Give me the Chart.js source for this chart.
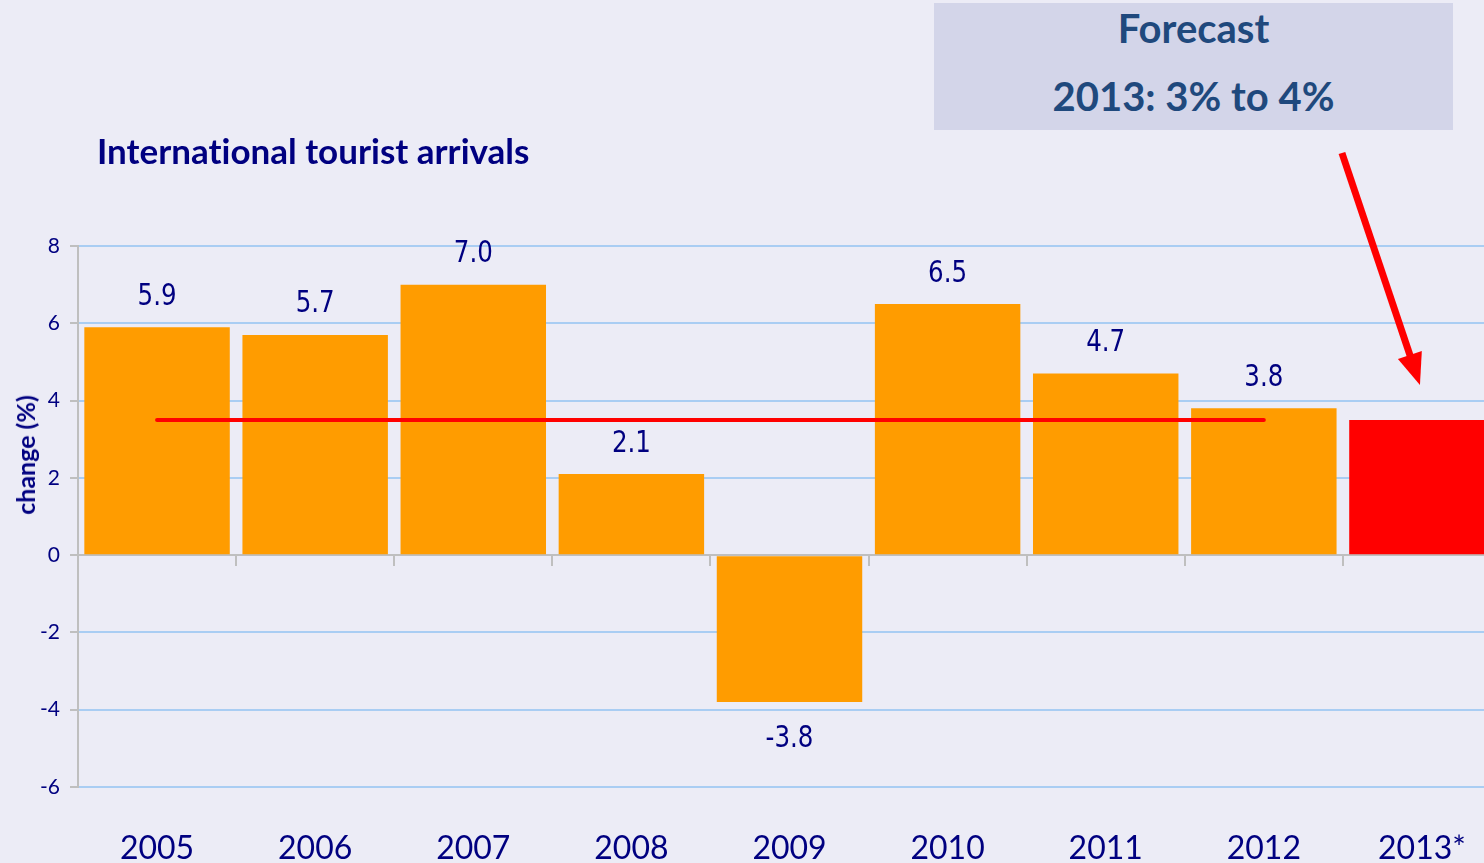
<!DOCTYPE html>
<html>
<head>
<meta charset="utf-8">
<script src="https://cdn.jsdelivr.net/npm/chart.js@4.4.1/dist/chart.umd.min.js"></script>
<style>
  html, body { margin: 0; padding: 0; background: #ECECF6; overflow: hidden; width: 1484px; height: 863px; }
  #wrap { position: absolute; left: 0; top: 0; width: 1501px; height: 863px; }
  #titulo { position: absolute; left: 97px; top: 129px; font: bold 35px Lato, "Open Sans", sans-serif; font-variant-ligatures: none; color: #000080; white-space: nowrap; }
  #ytitulo { position: absolute; left: 25px; top: 455px; transform: translate(-50%, -50%) rotate(-90deg); font: bold 25px Lato, "Open Sans", sans-serif; color: #000080; white-space: nowrap; }
  #caja { position: absolute; left: 934px; top: 3px; width: 519px; height: 127px; background: #D3D5E9; color: #1F497D; font: bold 40px Lato, "Open Sans", sans-serif; text-align: center; font-variant-ligatures: none; }
  #caja div { position: absolute; left: 0; width: 100%; }
</style>
</head>
<body>
<div id="wrap"><canvas id="grafica_llegadas" width="1501" height="863"></canvas></div>
<div id="titulo">International tourist arrivals</div>
<div id="ytitulo">change (%)</div>
<div id="caja"><div style="top:1px">Forecast</div><div style="top:69px">2013: 3% to 4%</div></div>
<script>
// Datos
const anios = ['2005', '2006', '2007', '2008', '2009', '2010', '2011', '2012', '2013*'];
const cambio = [5.9, 5.7, 7.0, 2.1, -3.8, 6.5, 4.7, 3.8, 3.5];
const promedio = [3.5, 3.5, 3.5, 3.5, 3.5, 3.5, 3.5, 3.5, null];
const colores = ['#FF9C00', '#FF9C00', '#FF9C00', '#FF9C00', '#FF9C00', '#FF9C00', '#FF9C00', '#FF9C00', '#FF0000'];
const ticksY = [-6, -4, -2, 0, 2, 4, 6, 8];

const azulGrid = '#A9CDF3';
const gris = '#BFBFBF';
const navy = '#000080';

// etiquetas de valores y flecha
const etiquetas = {
  id: 'etiquetas',
  afterDatasetsDraw(chart) {
    const ctx = chart.ctx;
    const meta = chart.getDatasetMeta(0);
    ctx.save();
    ctx.fillStyle = navy;
    ctx.font = '31px "DejaVu Sans Condensed", "Liberation Sans Narrow", sans-serif';
    ctx.textAlign = 'center';
    meta.data.forEach((bar, i) => {
      if (i === anios.length - 1) return;
      const v = cambio[i];
      const yy = v >= 0 ? bar.y - 15 : bar.y + 21;
      ctx.textBaseline = v >= 0 ? 'bottom' : 'top';
      // un poco mas angosto, como en la original
      ctx.save();
      ctx.translate(bar.x, yy);
      ctx.scale(0.88, 1);
      ctx.fillText(v.toFixed(1), 0, 0);
      ctx.restore();
    });
    // flecha hacia 2013
    const ultima = meta.data[anios.length - 1];
    const y = chart.scales.y;
    const x1 = ultima.x - 80, y1 = y.getPixelForValue(8) - 93;
    const x2 = ultima.x - 2, y2 = ultima.y - 35;
    const ang = Math.atan2(y2 - y1, x2 - x1);
    const cab = 34;
    ctx.strokeStyle = '#FF0000';
    ctx.fillStyle = '#FF0000';
    ctx.lineWidth = 7;
    ctx.beginPath();
    ctx.moveTo(x1, y1);
    ctx.lineTo(x2 - Math.cos(ang) * cab * 0.8, y2 - Math.sin(ang) * cab * 0.8);
    ctx.stroke();
    ctx.beginPath();
    ctx.moveTo(x2, y2);
    ctx.lineTo(x2 - cab * Math.cos(ang - 0.38), y2 - cab * Math.sin(ang - 0.38));
    ctx.lineTo(x2 - cab * Math.cos(ang + 0.38), y2 - cab * Math.sin(ang + 0.38));
    ctx.closePath();
    ctx.fill();
    ctx.restore();
  }
};

const grafica_llegadas = document.getElementById('grafica_llegadas');

new Chart(grafica_llegadas, {
  type: 'bar',
  data: {
    labels: anios,
    datasets: [{
      label: 'change',
      data: cambio,
      backgroundColor: colores,
      barPercentage: 0.92,
      categoryPercentage: 1.0,
      order: 1
    }, {
      type: 'line',
      label: 'promedio',
      data: promedio,
      borderColor: '#FF0000',
      borderWidth: 4,
      borderCapStyle: 'round',
      pointRadius: 0,
      spanGaps: false,
      order: 0
    }]
  },
  plugins: [etiquetas],
  options: {
    responsive: false,
    animation: false,
    layout: { padding: { left: 0, right: 0, top: 246, bottom: 0 } },
    plugins: { legend: { display: false }, tooltip: { enabled: false } },
    scales: {
      x: {
        grid: { display: false },
        border: { display: false },
        ticks: { color: navy, font: { family: 'Lato, "Open Sans", sans-serif', size: 32 }, padding: 34 },
        afterFit(s) { s.height = 76; }
      },
      x2: {
        type: 'category',
        labels: anios,
        position: { y: 0 },
        offset: true,
        grid: { offset: true, drawOnChartArea: false, color: gris, tickLength: 10, lineWidth: 2 },
        border: { color: gris, width: 2 },
        ticks: { display: false }
      },
      y: {
        min: -6,
        max: 8,
        afterBuildTicks(s) { s.ticks = ticksY.map(v => ({ value: v })); },
        grid: {
          color: c => c.tick && c.tick.value === 0 ? 'rgba(0,0,0,0)' : azulGrid,
          tickColor: gris,
          lineWidth: 2,
          tickLength: 8
        },
        border: { color: gris, width: 2 },
        ticks: { color: navy, font: { family: 'Lato, "Open Sans", sans-serif', size: 21 }, padding: 10 },
        afterFit(s) { s.width = 78; }
      }
    }
  }
});
</script>
</body>
</html>
